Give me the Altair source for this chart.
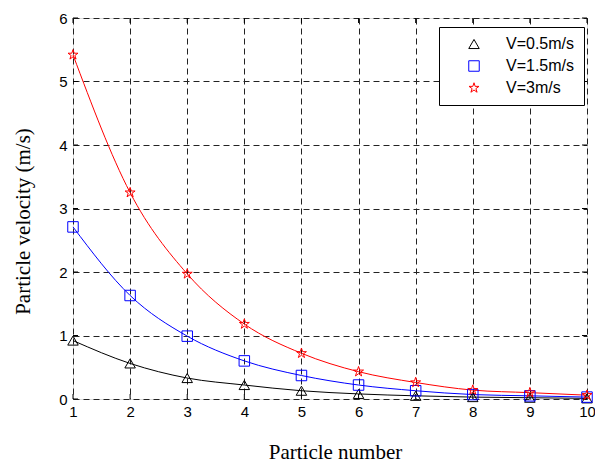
import altair as alt
import pandas as pd

particle = [1, 2, 3, 4, 5, 6, 7, 8, 9, 10]
v05 = [0.92, 0.56, 0.33, 0.22, 0.13, 0.08, 0.05, 0.03, 0.02, 0.01]
v15 = [2.71, 1.63, 0.99, 0.60, 0.37, 0.22, 0.13, 0.07, 0.05, 0.03]
v3 = [5.42, 3.25, 1.97, 1.18, 0.72, 0.43, 0.26, 0.14, 0.10, 0.06]
series = ["V=0.5m/s", "V=1.5m/s", "V=3m/s"]
colors = ["black", "#0000ff", "#ff0000"]
shapes = ["triangle-up",
          "square",
          "M0,-1L0.2245,-0.309L0.951,-0.309L0.363,0.118L0.588,0.809L0,0.382L-0.588,0.809L-0.363,0.118L-0.951,-0.309L-0.2245,-0.309Z"]
xticks = [1, 2, 3, 4, 5, 6, 7, 8, 9, 10]
yticks = [0, 1, 2, 3, 4, 5, 6]

rows = []
for name, vals in zip(series, [v05, v15, v3]):
    for p, v in zip(particle, vals):
        rows.append({"p": p, "v": v, "s": name})
df = pd.DataFrame(rows)

W, H = 514, 381
xs = alt.Scale(domain=[1, 10], nice=False)
ys = alt.Scale(domain=[0, 6], nice=False)
cs = alt.Scale(domain=series, range=colors)
ss = alt.Scale(domain=series, range=shapes)

xaxis = alt.Axis(values=xticks, format="d", title="Particle number", grid=True, gridDash=[6, 4],
                 gridColor="#222", gridOpacity=1, domain=False, ticks=False,
                 labelFont="Liberation Sans", labelFontSize=15, labelColor="black",
                 labelPadding=5, labelFlush=False, labelBound=False, labelOverlap=False,
                 titleFont="Liberation Serif", titleFontSize=21,
                 titleFontWeight="normal", titleColor="black",
                 titleX=262, titleY=53, titleBaseline="middle", titleAlign="center")
yaxis = alt.Axis(values=yticks, format="d", title="Particle velocity (m/s)", grid=True, gridDash=[6, 4],
                 gridColor="#222", gridOpacity=1, domain=False, ticks=False,
                 labelFont="Liberation Sans", labelFontSize=15, labelColor="black",
                 labelPadding=6, labelFlush=False, labelBound=False, labelOverlap=False,
                 titleFont="Liberation Serif", titleFontSize=21,
                 titleFontWeight="normal", titleColor="black",
                 titleX=-50, titleY=203, titleBaseline="middle", titleAlign="center", titleAngle=270)

lines = alt.Chart(df).mark_line(strokeWidth=1, interpolate="monotone").encode(
    x=alt.X("p:Q", scale=xs, axis=xaxis),
    y=alt.Y("v:Q", scale=ys, axis=yaxis),
    color=alt.Color("s:N", scale=cs, legend=None),
    detail="s:N",
)

points = alt.Chart(df).mark_point(filled=False, size=110, strokeWidth=1, opacity=1).encode(
    x=alt.X("p:Q", scale=xs),
    y=alt.Y("v:Q", scale=ys),
    color=alt.Color("s:N", scale=cs, legend=alt.Legend(
        title=None, orient="none", legendX=366, legendY=9,
        labelFont="Liberation Sans", labelFontSize=16, labelColor="black",
        strokeColor="black", fillColor="white", padding=9, rowPadding=6,
        symbolSize=110, symbolStrokeWidth=1, symbolOffset=18, labelOffset=24, offset=0)),
    shape=alt.Shape("s:N", scale=ss),
)

tx = pd.DataFrame({"t": xticks})
ty = pd.DataFrame({"t": yticks})
tb = alt.Chart(tx).mark_rule(color="black", strokeWidth=1).encode(
    x=alt.X("t:Q", scale=xs), y=alt.value(H), y2=alt.value(H - 5))
tt = alt.Chart(tx).mark_rule(color="black", strokeWidth=1).encode(
    x=alt.X("t:Q", scale=xs), y=alt.value(0), y2=alt.value(5))
tl = alt.Chart(ty).mark_rule(color="black", strokeWidth=1).encode(
    y=alt.Y("t:Q", scale=ys), x=alt.value(0), x2=alt.value(5))
tr = alt.Chart(ty).mark_rule(color="black", strokeWidth=1).encode(
    y=alt.Y("t:Q", scale=ys), x=alt.value(W), x2=alt.value(W - 5))

chart = alt.layer(lines, tb, tt, tl, tr, points).resolve_scale(
    color="independent", shape="independent"
).properties(
    width=W, height=H,
    autosize=alt.AutoSizeParams(type="none"),
    padding={"left": 65, "top": 10, "right": 8, "bottom": 66},
).configure_view(stroke="black", strokeWidth=1.2).configure(background="white")

chart.save("out.html", embed_options={"renderer": "svg", "actions": False})
